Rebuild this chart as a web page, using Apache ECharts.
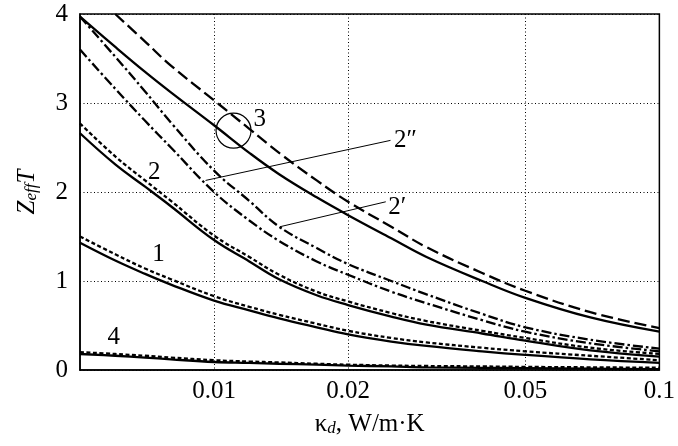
<!DOCTYPE html>
<html>
<head>
<meta charset="utf-8">
<script src="https://cdn.jsdelivr.net/npm/echarts@6.0.0/dist/echarts.min.js"></script>
<style>
  html, body { margin: 0; padding: 0; background: #fff; }
  #chart { width: 678px; height: 446px; }
</style>
</head>
<body>
<div id="chart"></div>
<script>
// thermal conductivity of the dielectric, W/m K
const kappa = [0.005, 0.006, 0.007, 0.008, 0.01, 0.012, 0.014, 0.017, 0.02, 0.025, 0.03, 0.04, 0.05, 0.07, 0.1]

// Z_eff T curves
const curve3Dashed = [null, 4.00, 3.69, 3.42, 3.03, 2.71, 2.44, 2.13, 1.89, 1.61, 1.38, 1.09, 0.89, 0.65, 0.47]
const curve3Solid  = [3.97, 3.63, 3.35, 3.12, 2.75, 2.44, 2.20, 1.94, 1.74, 1.48, 1.27, 1.00, 0.81, 0.59, 0.43]
const curve2pp     = [3.97, 3.52, 3.13, 2.78, 2.24, 1.90, 1.61, 1.37, 1.19, 1.00, 0.85, 0.63, 0.48, 0.34, 0.24]
const curve2p      = [3.60, 3.16, 2.80, 2.50, 2.00, 1.68, 1.45, 1.22, 1.07, 0.88, 0.75, 0.56, 0.43, 0.30, 0.21]
const curve2Dashed = [2.77, 2.40, 2.13, 1.90, 1.51, 1.27, 1.07, 0.88, 0.77, 0.64, 0.55, 0.44, 0.36, 0.25, 0.18]
const curve2Solid  = [2.66, 2.31, 2.06, 1.84, 1.46, 1.22, 1.02, 0.84, 0.73, 0.60, 0.51, 0.41, 0.33, 0.22, 0.15]
const curve1Dashed = [1.50, 1.30, 1.14, 1.02, 0.83, 0.71, 0.62, 0.52, 0.44, 0.36, 0.31, 0.25, 0.21, 0.16, 0.11]
const curve1Solid  = [1.43, 1.23, 1.08, 0.96, 0.78, 0.67, 0.58, 0.48, 0.40, 0.32, 0.27, 0.21, 0.17, 0.12, 0.08]
const curve4Dashed = [0.20, 0.18, 0.16, 0.14, 0.11, 0.095, 0.085, 0.07, 0.06, 0.05, 0.045, 0.04, 0.035, 0.03, 0.025]
const curve4Solid  = [0.18, 0.16, 0.14, 0.12, 0.09, 0.08, 0.07, 0.06, 0.05, 0.04, 0.03, 0.025, 0.02, 0.015, 0.01]

// axis ticks
const xTicks = [0.01, 0.02, 0.05, 0.1]
const xGrid = [0.01, 0.02, 0.05]

// annotations: leader lines, the circle round curves 3, curve numbers
const leader2pp = [[0.00957, 2.13], [0.0249, 2.58]]
const leader2p = [[0.01407, 1.61], [0.0243, 1.89]]
const circle3 = [0.01106, 2.69]
const curveLabels = [
  ['3', 0.01266, 2.81],
  ['2\u2033', 0.0269, 2.58],
  ['2\u2032', 0.0258, 1.83],
  ['2', 0.00734, 2.22],
  ['1', 0.0075, 1.30],
  ['4', 0.00595, 0.37]
]

const FONT = 'Liberation Serif, Times New Roman, serif'

const toPoints = ys => kappa.map((k, i) => [k, ys[i]]).filter(p => p[1] != null)

const curve = (ys, dash) => ({
  type: 'line',
  data: toPoints(ys),
  smooth: 0.4,
  showSymbol: false,
  silent: true,
  lineStyle: { color: '#000', width: 2.3, type: dash || 'solid' },
  z: 3
})

const chart = echarts.init(document.getElementById('chart'), null, { renderer: 'canvas' })

chart.setOption({
  animation: false,
  backgroundColor: '#fff',
  grid: {
    left: 80, right: 15, top: 14, bottom: 76,
    show: true, borderColor: '#000', borderWidth: 1.5,
    containLabel: false
  },
  xAxis: {
    type: 'log',
    logBase: 10,
    min: 0.005,
    max: 0.1,
    name: '{n|\u03ba}{s|d}{n|, W/m\u00b7K}',
    nameLocation: 'middle',
    nameGap: 41,
    nameTextStyle: {
      rich: {
        n: { fontFamily: FONT, fontSize: 25, color: '#000', lineHeight: 26 },
        s: { fontFamily: FONT, fontSize: 17, fontStyle: 'italic', color: '#000', lineHeight: 6, verticalAlign: 'bottom' }
      }
    },
    axisLine: { show: true, lineStyle: { color: '#000', width: 1.5 } },
    axisTick: { show: false, customValues: xGrid },
    axisLabel: {
      customValues: xTicks,
      margin: 9,
      fontFamily: FONT,
      fontSize: 25,
      color: '#000',
      formatter: v => String(+(+v).toPrecision(3))
    },
    splitLine: { show: true, lineStyle: { color: '#000', width: 1, type: [1, 2.5] } },
    minorTick: { show: false },
    minorSplitLine: { show: false }
  },
  yAxis: {
    type: 'value',
    min: 0,
    max: 4,
    interval: 1,
    name: '{i|Z}{s|eff}{i|T}',
    nameLocation: 'middle',
    nameGap: 40,
    nameTextStyle: {
      rich: {
        i: { fontFamily: FONT, fontSize: 25, fontStyle: 'italic', color: '#000', lineHeight: 26 },
        s: { fontFamily: FONT, fontSize: 17, fontStyle: 'italic', color: '#000', lineHeight: 6, verticalAlign: 'bottom' }
      }
    },
    axisLine: { show: true, lineStyle: { color: '#000', width: 1.5 } },
    axisTick: { show: false },
    axisLabel: { margin: 12, fontFamily: FONT, fontSize: 25, color: '#000' },
    splitLine: { show: true, lineStyle: { color: '#000', width: 1, type: [1, 2.5] } }
  },
  series: [
    curve(curve3Dashed, [12, 5]),
    curve(curve3Solid),
    curve(curve2pp, [10, 3, 2.5, 3]),
    curve(curve2p, [10, 3, 2.5, 3]),
    curve(curve2Dashed, [4, 2.5]),
    curve(curve2Solid),
    curve(curve1Dashed, [4, 2.5]),
    curve(curve1Solid),
    curve(curve4Dashed, [4, 2.5]),
    curve(curve4Solid),
    {
      type: 'line', data: leader2pp, showSymbol: false, silent: true,
      lineStyle: { color: '#000', width: 1 }, z: 4
    },
    {
      type: 'line', data: leader2p, showSymbol: false, silent: true,
      lineStyle: { color: '#000', width: 1 }, z: 4
    },
    {
      type: 'scatter', data: [circle3], symbol: 'circle', symbolSize: 35, silent: true,
      itemStyle: { color: 'rgba(0,0,0,0)', borderColor: '#000', borderWidth: 1.2, opacity: 1 }, z: 4
    },
    {
      type: 'scatter',
      data: curveLabels.map(d => ({ name: d[0], value: [d[1], d[2]] })),
      symbolSize: 0,
      silent: true,
      z: 5,
      itemStyle: { color: '#000', opacity: 1 },
      label: {
        show: true,
        position: 'inside',
        formatter: p => p.name,
        fontFamily: FONT,
        fontSize: 25,
        color: '#000',
        opacity: 1,
        textBorderWidth: 0
      }
    }
  ]
})
</script>
</body>
</html>
